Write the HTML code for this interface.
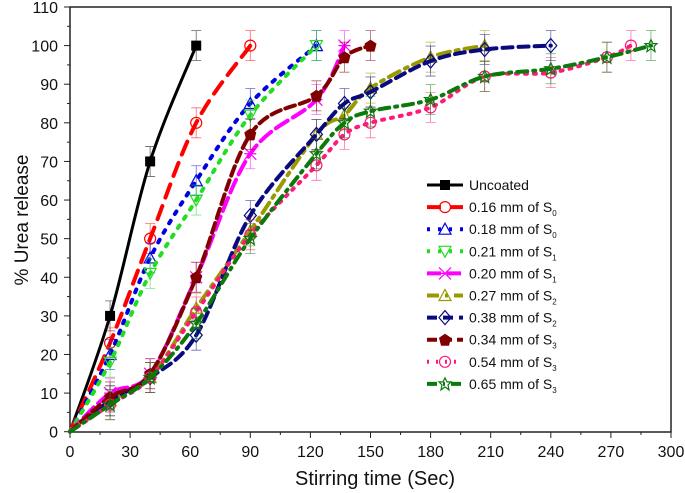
<!DOCTYPE html>
<html><head><meta charset="utf-8"><style>
body{margin:0;background:#fff;}
svg{display:block;font-family:"Liberation Sans",sans-serif;}
</style></head><body>
<svg id="chart" width="685" height="493">
<rect x="70" y="7" width="601" height="425" fill="none" stroke="#222" stroke-width="1.5"/>
<g id="axes"></g>
<g id="series"></g>
<g id="legend"></g>
<text x="375" y="485" text-anchor="middle" font-size="20" fill="#111">Stirring time (Sec)</text>
<text transform="translate(28,220) rotate(-90)" text-anchor="middle" font-size="19" fill="#111">% Urea release</text>
</svg>
<script>
const xTicks=[0,30,60,90,120,150,180,210,240,270,300];
const yTicks=[0,10,20,30,40,50,60,70,80,90,100,110];
const seriesNames=["Uncoated","0.16 mm of S0","0.18 mm of S0","0.21 mm of S1","0.20 mm of S1","0.27 mm of S2","0.38 mm of S2","0.34 mm of S3","0.54 mm of S3","0.65 mm of S3"];
const uncX=[0,20,40,63], uncY=[0,30,70,100];
const s016X=[0,20,40,63,90], s016Y=[0,23,50,80,100];
const s018X=[0,20,40,63,90,123], s018Y=[0,20,45,65,85,100];
const s021X=[0,20,40,63,90,123], s021Y=[0,18,41,60,82,100];
const s020X=[0,20,40,63,90,123,137], s020Y=[0,10,15,40,72,86,100];
const s027X=[0,20,40,63,90,123,137,150,180,207], s027Y=[0,8,14,32,52,77,82,89,97,100];
const s038X=[0,20,40,63,90,123,137,150,180,207,240], s038Y=[0,8,14,25,56,77,85,88,96,99,100];
const s034X=[0,20,40,63,90,123,137,150], s034Y=[0,9,15,40,77,87,97,100];
const s054X=[0,20,40,63,90,123,137,150,180,207,240,268,280], s054Y=[0,7,14,31,51,69,77,80,84,92,93,97,100];
const s065X=[0,20,40,63,90,123,137,150,180,207,240,268,290], s065Y=[0,7,14,28,50,72,80,83,86,92,94,97,100];

const NS="http://www.w3.org/2000/svg";
const xs=v=>70+v*601/300, ys=v=>431.7-v*424.7/110;
function mk(t,a,p){const e=document.createElementNS(NS,t);for(const k in a)e.setAttribute(k,a[k]);p.appendChild(e);return e;}
const ax=document.getElementById('axes');
xTicks.forEach((t,i)=>{
  const l=mk('line',{x1:xs(t),x2:xs(t),y1:432,y2:438,stroke:'#222'},ax);
  
  
  if(i<xTicks.length-1){const m=mk('line',{x1:xs(t+15),x2:xs(t+15),y1:432,y2:435,stroke:'#222'},ax);
  
  }
  const tx=mk('text',{x:xs(t),y:457,'text-anchor':'middle','font-size':16,fill:'#111'},ax);tx.textContent=t;
  
  
});
yTicks.forEach((t,i)=>{
  const l=mk('line',{x1:64,x2:70,y1:ys(t),y2:ys(t),stroke:'#222'},ax);
  
  
  if(i<yTicks.length-1){const m=mk('line',{x1:67,x2:70,y1:ys(t+5),y2:ys(t+5),stroke:'#222'},ax);
  
  }
  const tx=mk('text',{x:58,y:ys(t)+6,'text-anchor':'end','font-size':16,fill:'#111'},ax);tx.textContent=t;
  
  
});
const styles=[
 {c:'#000',d:'',w:3,m:'sq'},
 {c:'#f00',d:'14 9',w:4,m:'circ'},
 {c:'#0000e0',d:'3 8',w:4,m:'tri'},
 {c:'#22dd22',d:'3 8',w:4,m:'tri2'},
 {c:'#f0f',d:'14 6',w:4,m:'x'},
 {c:'#999900',d:'12 6 3 6',w:4,m:'tri3'},
 {c:'#0a0a80',d:'10 6',w:4,m:'dia'},
 {c:'#800000',d:'10 5',w:4,m:'pent'},
 {c:'#ff1a7a',d:'2 7',w:4,m:'circ'},
 {c:'#0b7a0b',d:'10 6 2 6',w:4,m:'star'}];
const data=[[uncX,uncY],[s016X,s016Y],[s018X,s018Y],[s021X,s021Y],[s020X,s020Y],[s027X,s027Y],[s038X,s038Y],[s034X,s034Y],[s054X,s054Y],[s065X,s065Y]];
function spline(P){let d=`M${P[0][0]},${P[0][1]}`;for(let i=0;i<P.length-1;i++){const p0=P[Math.max(0,i-1)],p1=P[i],p2=P[i+1],p3=P[Math.min(P.length-1,i+2)];
 d+=` C${p1[0]+(p2[0]-p0[0])/6},${p1[1]+(p2[1]-p0[1])/6} ${p2[0]-(p3[0]-p1[0])/6},${p2[1]-(p3[1]-p1[1])/6} ${p2[0]},${p2[1]}`;}return d;}
function marker(g,m,x,y,c){
 let e;
 if(m==='sq')e=mk('rect',{x:x-5,y:y-5,width:10,height:10,fill:c},g);
 else if(m==='circ')e=mk('circle',{cx:x,cy:y,r:5.5,fill:'none',stroke:c,'stroke-width':1.2},g);
 else if(m==='tri'||m==='tri3')e=mk('polygon',{points:`${x},${y-6} ${x-6},${y+5} ${x+6},${y+5}`,fill:'none',stroke:c,'stroke-width':1.2},g);
 else if(m==='tri2')e=mk('polygon',{points:`${x},${y+6} ${x-6},${y-5} ${x+6},${y-5}`,fill:'none',stroke:c,'stroke-width':1.2},g);
 else if(m==='x')e=mk('path',{d:`M${x-6},${y-6}L${x+6},${y+6}M${x+6},${y-6}L${x-6},${y+6}M${x-6},${y}L${x+6},${y}`,stroke:c,'stroke-width':1.2},g);
 else if(m==='dia')e=mk('polygon',{points:`${x},${y-7} ${x+6},${y} ${x},${y+7} ${x-6},${y}`,fill:'none',stroke:c,'stroke-width':1.2},g);
 else if(m==='pent')e=mk('polygon',{points:`${x},${y-6} ${x+6},${y-2} ${x+4},${y+6} ${x-4},${y+6} ${x-6},${y-2}`,fill:c},g);
 else e=mk('polygon',{points:`${x},${y-6} ${x+2},${y-2} ${x+6},${y-2} ${x+3},${y+1} ${x+4},${y+6} ${x},${y+3} ${x-4},${y+6} ${x-3},${y+1} ${x-6},${y-2} ${x-2},${y-2}`,fill:'none',stroke:c,'stroke-width':1.2},g);
 
 
}
const sg=document.getElementById('series');
data.forEach((d,si)=>{
 const st=styles[si];
 const g=mk('g',{},sg);
 
 
 const P=d[0].map((v,i)=>[xs(v),ys(d[1][i])]);
 const p=mk('path',{d:spline(P),fill:'none',stroke:st.c,'stroke-width':st.w,'stroke-dasharray':st.d,'stroke-linecap':'round'},g);
 
 
 P.forEach((pt,i)=>{
  if(i===0)return;
  const eb=mk('path',{d:`M${pt[0]},${pt[1]-15}V${pt[1]+15}M${pt[0]-5},${pt[1]-15}H${pt[0]+5}M${pt[0]-5},${pt[1]+15}H${pt[0]+5}`,stroke:st.c,'stroke-width':0.8,opacity:0.6},g);
  
  
  marker(g,st.m,pt[0],pt[1],st.c);
 });
});
const lg=document.getElementById('legend');
const subs=['','0','0','1','1','2','2','3','3','3'];
seriesNames.forEach((n,i)=>{
 const st=styles[i],y=185+i*22.1;
 const g=mk('g',{},lg);
 
 
 const l=mk('line',{x1:427,x2:463,y1:y,y2:y,stroke:st.c,'stroke-width':st.w,'stroke-dasharray':st.d},g);
 
 
 marker(g,st.m,445,y,st.c);
 const t=mk('text',{x:469,y:y+5,'font-size':14,fill:'#111'},g);
 
 
 if(i===0)t.textContent=n;
 else{t.textContent=n.slice(0,-1);const s=mk('tspan',{'font-size':8,dy:4},t);s.textContent=subs[i];}
});
</script>
</body></html>
